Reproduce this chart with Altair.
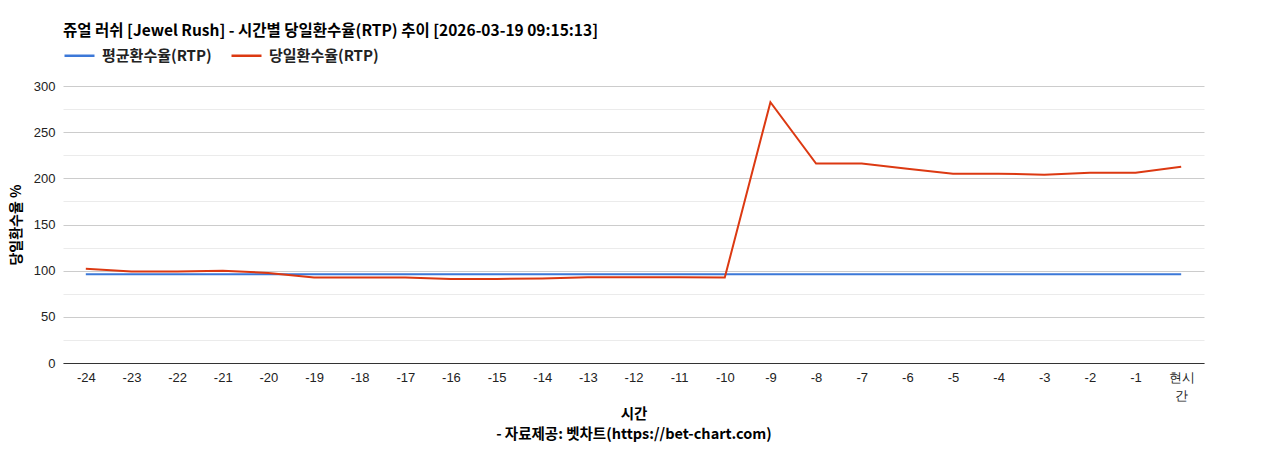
import pandas as pd
import altair as alt

hours = [str(h) for h in range(-24, 0)] + ["현시간"]
avg_rtp = [96.2] * 25
day_rtp = [102, 99, 99, 100, 97.5, 92.5, 92.5, 92.5, 91, 91, 91.5, 93, 93, 93, 92.5,
           282.5, 216, 216, 210.5, 205, 205, 204, 206, 206, 212.5]
series = ["평균환수율(RTP)", "당일환수율(RTP)"]

df = pd.concat([
    pd.DataFrame({"hour": hours, "rtp": avg_rtp, "series": series[0]}),
    pd.DataFrame({"hour": hours, "rtp": day_rtp, "series": series[1]}),
])

KR = "Noto Sans CJK KR"
LAT = "Liberation Sans"

chart = alt.Chart(df).mark_line(strokeWidth=2).encode(
    alt.X("hour:N", sort=hours, scale=alt.Scale(paddingOuter=0.0, paddingInner=0),
          axis=alt.Axis(
              title=["시간", "- 자료제공: 벳차트(https://bet-chart.com)"],
              labelAngle=0, ticks=False, grid=False, domainColor="#333",
              labelFont=LAT, labelFontSize=13, labelColor="#222",
              labelExpr="datum.value == '현시간' ? ['현시', '간'] : datum.label",
              labelLineHeight=18, labelPadding=8,
              titleFont=KR, titleFontSize=14.5, titleFontWeight="bold",
              titleColor="#000", titleLineHeight=20, titlePadding=5)),
    alt.Y("rtp:Q", scale=alt.Scale(domain=[0, 300], nice=False),
          axis=alt.Axis(
              title="당일환수율 %", values=list(range(0, 301, 25)),
              labelExpr="datum.value % 50 == 0 ? datum.label : ''",
              gridColor={"condition": {"test": "datum.value % 50 == 0", "value": "#cccccc"},
                         "value": "#ebebeb"},
              ticks=False, domain=False, labelPadding=8,
              labelFont=LAT, labelFontSize=13, labelColor="#222",
              titleFont=KR, titleFontSize=14, titleFontWeight="bold",
              titleColor="#000", titlePadding=10)),
    alt.Color("series:N", sort=series,
              scale=alt.Scale(domain=series, range=["#3c78d8", "#dc3912"]),
              legend=alt.Legend(
                  title=None, orient="none", legendX=0, legendY=-47,
                  direction="horizontal", symbolType="stroke", symbolSize=900,
                  symbolStrokeWidth=2.5, columnPadding=14, labelOffset=6,
                  labelFont=KR, labelFontSize=15, labelFontWeight="bold",
                  labelColor="#222")),
).properties(
    width=1141, height=277,
    title=alt.TitleParams(
        "쥬얼 러쉬 [Jewel Rush] - 시간별 당일환수율(RTP) 추이 [2026-03-19 09:15:13]",
        anchor="start", frame="group", font=KR, fontSize=15.5, fontWeight="bold",
        color="#000", offset=0),
    autosize=alt.AutoSizeParams(type="none"),
    padding={"left": 55, "top": 78, "right": 56, "bottom": 79},
).configure_view(stroke=None)

chart.save("out.html", embed_options={"renderer": "svg", "actions": False})
